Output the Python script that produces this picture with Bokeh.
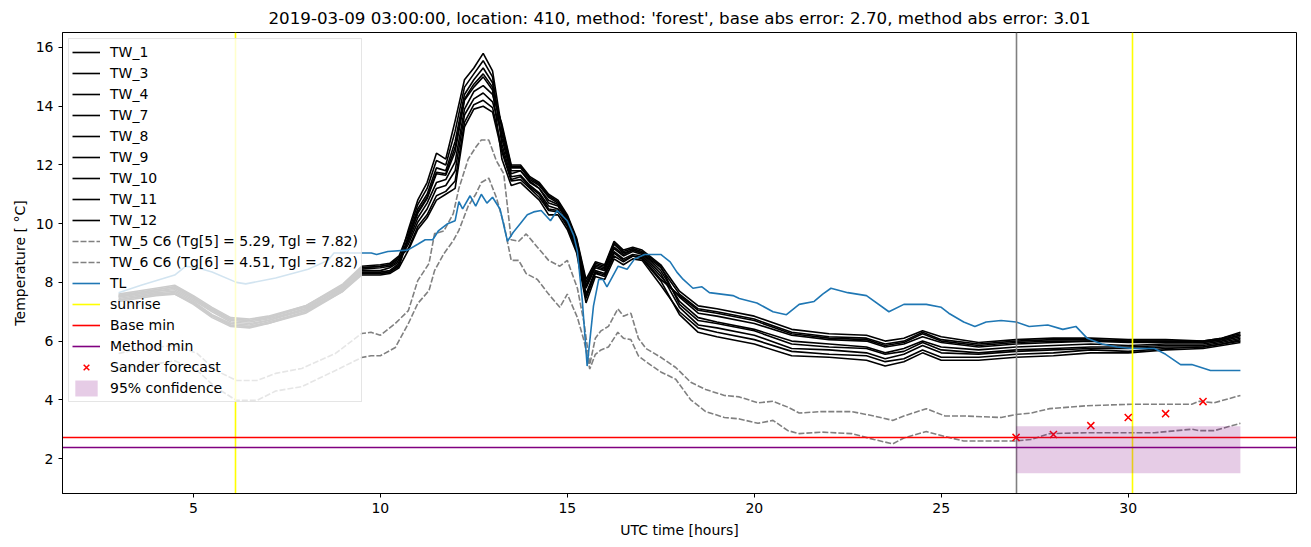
from bokeh.plotting import figure
from bokeh.models import Range1d, FixedTicker
from bokeh.embed import file_html
from bokeh.resources import INLINE

TITLE = "2019-03-09 03:00:00, location: 410, method: 'forest', base abs error: 2.70, method abs error: 3.01"

HOURS_TW = [3.0, 4.0, 4.5, 5.0, 5.5, 6.0, 6.5, 7.0, 8.0, 9.0, 9.5,
            10.0, 10.25, 10.5, 10.75, 11.0, 11.25, 11.5, 11.75, 12.0, 12.25, 12.5, 12.75, 13.0,
            13.25, 13.5, 13.75, 14.0, 14.25, 14.5, 14.75, 15.0, 15.25, 15.5, 15.75, 16.0, 16.25,
            16.5, 16.75, 17.0, 17.5, 18.0, 18.5, 19.0, 20.0, 21.0, 22.0, 23.0, 23.5, 24.0, 24.5,
            25.0, 26.0, 27.0, 28.0, 29.0, 30.0, 31.0, 32.0, 32.5, 33.0]

TW_1 = [7.5, 7.7, 7.75, 7.4, 7.0, 6.65, 6.6, 6.7, 7.1, 7.8, 8.4, 8.4, 8.5, 8.7,
        9.8, 10.8, 11.4, 12.4, 12.2, 13.5, 14.9, 15.3, 15.8, 15.2,
        13.2, 11.9, 11.9, 11.5, 11.3, 10.9, 10.7, 10.2, 9.4, 7.9, 8.6, 8.5, 9.3, 9.0, 9.1, 9.0, 8.5,
        7.6, 7.1, 7.0, 6.75, 6.3, 6.15, 6.1, 5.9, 6.0, 6.3, 6.05, 5.9, 6.0, 6.05, 6.05, 6.0, 6.0, 6.0, 6.1, 6.25]
TW_3 = [7.4, 7.6, 7.65, 7.3, 6.85, 6.55, 6.5, 6.65, 7.0, 7.75, 8.3, 8.3, 8.35, 8.6,
        9.6, 10.5, 11.0, 11.9, 11.8, 12.8, 14.4, 14.9, 15.3, 14.8,
        12.9, 11.7, 11.8, 11.4, 11.2, 10.7, 10.6, 10.1, 9.3, 7.8, 8.5, 8.4, 9.15, 8.9, 9.05, 8.95, 8.3,
        7.15, 6.55, 6.45, 6.2, 5.75, 5.7, 5.6, 5.4, 5.55, 5.85, 5.6, 5.55, 5.65, 5.7, 5.75, 5.75, 5.8, 5.8, 5.9, 6.05]
TW_4 = [7.55, 7.75, 7.85, 7.5, 7.1, 6.75, 6.7, 6.8, 7.15, 7.9, 8.5, 8.55, 8.6, 8.8,
        9.4, 10.2, 10.7, 11.4, 11.5, 12.1, 13.9, 14.5, 14.7, 14.4,
        13.4, 12.0, 12.0, 11.6, 11.4, 11.0, 10.8, 10.3, 9.5, 8.1, 8.7, 8.6, 9.4, 9.1, 9.2, 9.1, 8.6,
        7.7, 7.2, 7.1, 6.85, 6.4, 6.25, 6.2, 6.0, 6.1, 6.35, 6.15, 5.95, 6.05, 6.1, 6.1, 6.05, 6.05, 6.0, 6.1, 6.3]
TW_7 = [7.35, 7.55, 7.6, 7.25, 6.8, 6.5, 6.45, 6.6, 6.95, 7.7, 8.25, 8.25, 8.3, 8.5,
        9.1, 9.8, 10.2, 10.8, 11.0, 11.2, 13.3, 13.9, 14.0, 13.8,
        12.45, 11.45, 11.5, 11.2, 10.9, 10.45, 10.4, 9.9, 9.1, 7.45, 8.3, 8.2, 8.9, 8.7, 8.9, 8.8, 8.05,
        6.9, 6.3, 6.15, 5.9, 5.5, 5.45, 5.35, 5.15, 5.3, 5.6, 5.35, 5.35, 5.45, 5.5, 5.6, 5.6, 5.7, 5.75, 5.85, 5.95]
TW_8 = [7.6, 7.8, 7.9, 7.55, 7.15, 6.8, 6.75, 6.85, 7.2, 7.95, 8.55, 8.6, 8.65, 8.9,
        9.7, 10.65, 11.2, 12.15, 12.0, 13.15, 14.65, 15.1, 15.55, 15.0,
        12.7, 11.6, 11.65, 11.3, 11.05, 10.6, 10.5, 10.0, 9.2, 7.6, 8.4, 8.3, 9.05, 8.8, 8.95, 8.9, 8.2,
        7.5, 6.95, 6.85, 6.6, 6.2, 6.05, 6.0, 5.8, 5.9, 6.15, 5.95, 5.8, 5.9, 5.95, 6.0, 5.95, 5.95, 5.95, 6.05, 6.2]
TW_9 = [7.45, 7.65, 7.7, 7.35, 6.9, 6.6, 6.55, 6.7, 7.05, 7.8, 8.35, 8.35, 8.4, 8.65,
        9.5, 10.35, 10.85, 11.7, 11.65, 12.45, 14.2, 14.65, 15.0, 14.55,
        12.2, 11.3, 11.4, 11.1, 10.8, 10.3, 10.3, 9.8, 9.0, 7.3, 8.2, 8.1, 8.8, 8.6, 8.8, 8.75, 7.9,
        7.0, 6.45, 6.3, 6.05, 5.65, 5.55, 5.5, 5.3, 5.4, 5.7, 5.45, 5.45, 5.55, 5.6, 5.7, 5.65, 5.75, 5.8, 5.9, 6.0]
TW_10 = [7.5, 7.7, 7.8, 7.45, 7.05, 6.7, 6.65, 6.75, 7.1, 7.85, 8.45, 8.5, 8.55, 8.75,
         9.3, 10.05, 10.5, 11.2, 11.3, 11.8, 13.7, 14.25, 14.45, 14.15,
         13.05, 11.8, 11.8, 11.45, 11.2, 10.8, 10.65, 10.15, 9.35, 7.85, 8.55, 8.45, 9.2, 8.95, 9.1, 9.0, 8.4,
         7.35, 6.8, 6.65, 6.4, 6.0, 5.9, 5.8, 5.6, 5.75, 6.0, 5.8, 5.7, 5.8, 5.85, 5.9, 5.85, 5.9, 5.9, 6.0, 6.15]
TW_11 = [7.55, 7.75, 7.85, 7.5, 7.1, 6.75, 6.7, 6.8, 7.2, 7.9, 8.5, 8.55, 8.6, 8.85,
         9.15, 9.9, 10.3, 10.95, 11.1, 11.45, 13.45, 14.05, 14.2, 13.95,
         12.55, 11.5, 11.6, 11.25, 11.0, 10.5, 10.45, 9.95, 9.15, 7.55, 8.35, 8.25, 9.0, 8.75, 8.9, 8.85, 8.1,
         7.55, 7.05, 6.95, 6.7, 6.25, 6.1, 6.05, 5.85, 5.95, 6.25, 6.0, 5.85, 5.95, 6.0, 6.0, 6.0, 6.0, 5.95, 6.05, 6.2]
TW_12 = [7.4, 7.6, 7.6, 7.3, 6.85, 6.55, 6.5, 6.6, 7.0, 7.7, 8.3, 8.3, 8.35, 8.55,
         9.5, 10.4, 10.9, 11.75, 11.7, 12.6, 14.25, 14.75, 15.1, 14.65,
         13.3, 11.95, 11.95, 11.55, 11.35, 10.95, 10.75, 10.25, 9.45, 8.0, 8.65, 8.55, 9.35, 9.05, 9.15, 9.05, 8.55,
         7.25, 6.7, 6.6, 6.35, 5.9, 5.8, 5.75, 5.55, 5.65, 5.95, 5.7, 5.6, 5.7, 5.75, 5.8, 5.8, 5.85, 5.85, 5.95, 6.1]

HOURS_DASH = [3.0, 3.6, 4.5, 5.1, 5.6, 6.15, 6.7, 7.2, 7.9, 8.8, 9.5, 9.75, 10.0, 10.4, 10.75,
              11.0, 11.3, 11.45, 11.7, 11.95, 12.1, 12.35, 12.55, 12.7, 12.9, 13.1, 13.3, 13.5,
              13.7, 13.9, 14.2, 14.5, 14.8, 15.0, 15.27, 15.45, 15.6, 15.75, 15.9, 16.1, 16.35,
              16.5, 16.7, 16.9, 17.1, 17.5, 17.9, 18.3, 18.7, 19.2, 19.6, 20.1, 20.5, 20.9, 21.2,
              21.8, 22.6, 23.2, 23.7, 24.0, 24.6, 25.1, 25.6, 26.6, 27.0, 27.4, 27.9, 28.9, 30.1,
              30.7, 31.7, 31.9, 32.3, 33.0]
TW_5 = [5.58, 5.75, 5.85, 5.58, 5.0, 4.66, 4.66, 4.9, 5.07, 5.58,
        6.26, 6.3, 6.2, 6.6, 7.04, 8.06, 8.64, 9.66, 9.75, 10.34,
        11.2, 12.2, 12.6, 12.85, 12.85, 12.15, 11.7, 9.45, 9.4, 9.65,
        9.2, 8.75, 8.55, 8.75, 7.8, 6.6, 5.2, 6.1, 6.35, 6.5,
        7.1, 6.85, 6.95, 6.1, 5.75, 5.45, 5.1, 4.6, 4.35, 4.15,
        4.1, 3.9, 3.95, 3.75, 3.55, 3.6, 3.6, 3.45, 3.3, 3.45,
        3.7, 3.45, 3.45, 3.4, 3.5, 3.55, 3.7, 3.8, 3.85, 3.85,
        3.85, 3.95, 3.9, 4.15]
TW_6 = [5.1, 5.15, 5.33, 5.0, 4.42, 3.98, 3.98, 4.3, 4.45, 5.0,
        5.44, 5.5, 5.5, 5.78, 6.6, 7.28, 7.72, 8.4, 8.98, 9.42,
        9.77, 10.6, 11.0, 11.4, 11.55, 10.9, 10.0, 8.75, 8.75, 8.3,
        8.1, 7.6, 7.15, 7.6, 6.8, 6.0, 5.05, 5.55, 5.7, 5.8,
        6.3, 6.1, 6.05, 5.5, 5.3, 4.95, 4.7, 4.0, 3.6, 3.4,
        3.35, 3.2, 3.3, 2.95, 2.85, 2.9, 2.85, 2.65, 2.5, 2.7,
        2.92, 2.75, 2.6, 2.6, 2.6, 2.65, 2.85, 2.88, 2.88, 2.88,
        3.0, 2.95, 2.95, 3.2]

HOURS_TL = [3.0, 3.6, 4.5, 4.8, 5.1, 5.5, 6.15, 6.4, 7.2, 8.07,
            8.6, 8.76, 9.76, 9.9, 10.2, 10.73, 11.0, 11.2, 11.4, 11.55,
            11.8, 12.0, 12.1, 12.2, 12.4, 12.55, 12.7, 12.85, 13.0, 13.2,
            13.4, 13.55, 13.74, 13.93, 14.1, 14.3, 14.55, 14.73, 15.0, 15.17,
            15.27, 15.4, 15.53, 15.7, 15.84, 15.95, 16.06, 16.36, 16.6, 16.8,
            17.07, 17.5, 17.75, 17.93, 18.1, 18.36, 18.6, 18.8, 19.43, 19.6,
            20.07, 20.5, 20.86, 21.2, 21.6, 21.83, 22.05, 22.5, 23.0, 23.6,
            24.0, 24.6, 25.0, 25.2, 25.6, 25.9, 26.2, 26.6, 27.0, 27.35,
            27.85, 28.25, 28.6, 28.9, 29.3, 29.7, 30.1, 30.7, 31.0, 31.4,
            31.7, 32.2, 33.0]
TL = [7.65, 7.9, 8.25, 8.55, 8.5, 8.35, 8.0, 7.95, 8.15, 8.45,
      8.75, 9.0, 9.0, 8.95, 9.05, 9.1, 9.3, 9.45, 9.45, 9.75,
      10.0, 10.1, 10.75, 10.5, 10.95, 10.6, 11.0, 10.7, 10.9, 10.5,
      9.4, 9.7, 10.0, 10.3, 10.4, 10.45, 10.1, 10.45, 10.1, 9.6,
      9.05, 7.4, 5.15, 7.2, 8.1, 8.1, 7.85, 8.55, 8.45, 8.8,
      8.95, 8.95, 8.7, 8.35, 8.1, 7.8, 7.85, 7.65, 7.55, 7.45,
      7.3, 7.0, 6.9, 7.25, 7.35, 7.6, 7.8, 7.65, 7.55, 7.0,
      7.25, 7.25, 7.15, 6.95, 6.65, 6.5, 6.65, 6.7, 6.65, 6.5,
      6.55, 6.4, 6.5, 6.1, 5.9, 5.8, 5.75, 5.75, 5.55, 5.2,
      5.2, 5.0, 5.0]

SUNRISE = [6.12, 30.12]
FORECAST_TIME = [27.0]
BASE_MIN = [2.72]
METHOD_MIN = [2.37]
SANDER_HOURS = [27, 28, 29, 30, 31, 32]
SANDER_TEMP = [2.72, 2.82, 3.12, 3.4, 3.53, 3.94]
CONF_START = [27.0]
CONF_END = [33.0]
CONF_LOW = [1.5]
CONF_HIGH = [3.1]

X_TICKS = [5, 10, 15, 20, 25, 30]
Y_TICKS = [2, 4, 6, 8, 10, 12, 14, 16]

FONT = "DejaVu Sans"

p = figure(width=1311, height=547, output_backend="svg", toolbar_location=None,
           x_range=Range1d(1.5, 34.5), y_range=Range1d(0.81, 16.51),
           min_border_left=62, min_border_right=15, min_border_top=10, min_border_bottom=54,
           title=TITLE)
p.title.text_font = FONT
p.title.text_font_size = "16.7px"
p.title.text_font_style = "normal"
p.title.align = "center"
p.title.text_color = "black"
p.xgrid.visible = False
p.ygrid.visible = False
p.outline_line_color = "black"
p.outline_line_alpha = 1.0
p.outline_line_width = 1

for ax in (p.xaxis[0], p.yaxis[0]):
    ax.minor_tick_line_color = None
    ax.major_tick_in = 0
    ax.major_tick_out = 4
    ax.major_label_text_font = FONT
    ax.major_label_text_font_size = "14px"
    ax.major_label_text_color = "black"
    ax.axis_label_text_font = FONT
    ax.axis_label_text_font_size = "14px"
    ax.axis_label_text_font_style = "normal"
    ax.axis_label_text_color = "black"
    ax.axis_line_color = "black"
    ax.major_tick_line_color = "black"
p.xaxis.ticker = FixedTicker(ticks=X_TICKS)
p.yaxis.ticker = FixedTicker(ticks=Y_TICKS)
p.xaxis.axis_label = "UTC time [hours]"
p.yaxis.axis_label = "Temperature [ °C]"
p.xaxis.axis_label_standoff = 6

LW = 1.6
for name, vals in [("TW_1", TW_1), ("TW_3", TW_3), ("TW_4", TW_4), ("TW_7", TW_7),
                   ("TW_8", TW_8), ("TW_9", TW_9), ("TW_10", TW_10), ("TW_11", TW_11),
                   ("TW_12", TW_12)]:
    p.line(HOURS_TW, vals, line_color="black", line_width=LW, legend_label=name)

p.line(HOURS_DASH, TW_5, line_color="gray", line_width=LW, line_dash="6 2",
       legend_label="TW_5 C6 (Tg[5] = 5.29, Tgl = 7.82)")
p.line(HOURS_DASH, TW_6, line_color="gray", line_width=LW, line_dash="6 2",
       legend_label="TW_6 C6 (Tg[6] = 4.51, Tgl = 7.82)")
p.line(HOURS_TL, TL, line_color="#1f77b4", line_width=LW, legend_label="TL")
p.vspan(x=FORECAST_TIME, line_color="gray", line_width=LW)
p.vspan(x=SUNRISE, line_color="yellow", line_width=LW, legend_label="sunrise")
p.hspan(y=BASE_MIN, line_color="red", line_width=LW, legend_label="Base min")
p.hspan(y=METHOD_MIN, line_color="purple", line_width=LW, legend_label="Method min")
p.scatter(SANDER_HOURS, SANDER_TEMP, marker="x", size=10, line_color="red", line_width=1.5,
          legend_label="Sander forecast")
p.quad(left=CONF_START, right=CONF_END, bottom=CONF_LOW, top=CONF_HIGH,
       fill_color="purple", fill_alpha=0.2, line_color=None, legend_label="95% confidence")

lg = p.legend[0]
lg.location = "top_left"
lg.margin = 6
lg.padding = 3
lg.spacing = 1
lg.label_height = 20
lg.glyph_height = 20
lg.glyph_width = 28
lg.label_standoff = 10
lg.label_text_font = FONT
lg.label_text_font_size = "14px"
lg.label_text_color = "black"
lg.background_fill_alpha = 0.8
lg.border_line_color = "#cccccc"
lg.border_line_width = 1

open("out.html", "w").write(file_html(p, INLINE))
